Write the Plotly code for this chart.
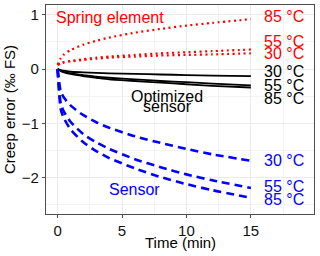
import plotly.graph_objects as go

# Time points (min)
time_min = [0, 0.25, 0.5, 1, 2, 3, 4, 6, 8, 10, 12, 15]

# Spring element (dotted red)
spring_30 = [0.08, 0.10, 0.12, 0.14, 0.17, 0.19, 0.21, 0.23, 0.25, 0.26, 0.27, 0.29]
spring_55 = [0.08, 0.11, 0.13, 0.15, 0.18, 0.21, 0.23, 0.26, 0.29, 0.31, 0.33, 0.36]
spring_85 = [0.08, 0.20, 0.27, 0.35, 0.45, 0.52, 0.58, 0.67, 0.74, 0.80, 0.85, 0.92]

# Optimized sensor (solid black)
opt_30 = [0, -0.02, -0.03, -0.05, -0.06, -0.07, -0.08, -0.09, -0.10, -0.11, -0.12, -0.13]
opt_55 = [0, -0.03, -0.05, -0.08, -0.11, -0.14, -0.16, -0.19, -0.22, -0.24, -0.27, -0.30]
opt_85 = [0, -0.04, -0.06, -0.09, -0.13, -0.16, -0.19, -0.22, -0.25, -0.28, -0.31, -0.34]

# Sensor (dashed blue)
sens_30 = [0, -0.42, -0.53, -0.67, -0.85, -0.98, -1.08, -1.24, -1.36, -1.47, -1.57, -1.69]
sens_55 = [0, -0.64, -0.79, -0.97, -1.20, -1.35, -1.47, -1.66, -1.81, -1.94, -2.05, -2.19]
sens_85 = [0, -0.75, -0.91, -1.11, -1.35, -1.51, -1.64, -1.83, -1.99, -2.12, -2.23, -2.37]

temp_labels = ["30 °C", "55 °C", "85 °C"]

RED = "#FF0000"
BLUE = "#0000FF"
BLACK = "#000000"
FONT = "Liberation Sans, Arial, sans-serif"

fig = go.Figure()

groups = [
    ([spring_30, spring_55, spring_85], RED, "2px,3.5px", 2.2),
    ([opt_30, opt_55, opt_85], BLACK, "solid", 1.8),
    ([sens_30, sens_55, sens_85], BLUE, "8px,5px", 2.6),
]
for series, color, dash, width in groups:
    for s in series:
        fig.add_trace(go.Scatter(
            x=time_min, y=s, mode="lines",
            line=dict(color=color, dash=dash, width=width, shape="spline", smoothing=0.6),
            hoverinfo="skip", showlegend=False,
        ))

# Temperature labels near line ends
label_y = {
    RED: [0.29, 0.50, 0.96],
    BLACK: [-0.05, -0.30, -0.54],
    BLUE: [-1.69, -2.16, -2.40],
}
annotations = []
for color, ys in label_y.items():
    for txt, yv in zip(temp_labels, ys):
        annotations.append(dict(
            x=15.9, y=yv, xref="x", yref="y", text=txt, showarrow=False,
            xanchor="left", yanchor="middle", font=dict(color=color, size=16, family=FONT),
        ))

annotations += [
    dict(x=4.05, y=0.95, xref="x", yref="y", text="Spring element", showarrow=False,
         xanchor="center", yanchor="middle", font=dict(color=RED, size=16, family=FONT)),
    dict(x=8.5, y=-0.50, xref="x", yref="y", text="Optimized", showarrow=False,
         xanchor="center", yanchor="middle", font=dict(color=BLACK, size=16, family=FONT)),
    dict(x=8.5, y=-0.69, xref="x", yref="y", text="sensor", showarrow=False,
         xanchor="center", yanchor="middle", font=dict(color=BLACK, size=16, family=FONT)),
    dict(x=6.0, y=-2.21, xref="x", yref="y", text="Sensor", showarrow=False,
         xanchor="center", yanchor="middle", font=dict(color=BLUE, size=16, family=FONT)),
    # x-axis title placed as annotation for exact position
    dict(x=0.5, y=-0.134, xref="paper", yref="paper", text="Time (min)", showarrow=False,
         xanchor="center", yanchor="middle", font=dict(color=BLACK, size=15, family=FONT)),
]

axis_common = dict(
    showgrid=True, gridcolor="#EBEBEB", gridwidth=1,
    showline=True, linecolor="#4D4D4D", linewidth=1.2, mirror=True,
    ticks="outside", ticklen=3, tickcolor="#4D4D4D", tickwidth=1,
    zeroline=False, automargin=False,
    tickfont=dict(size=15, color="#111111", family=FONT),
)

fig.update_layout(
    width=320, height=256,
    margin=dict(l=46, r=6, t=5, b=42),
    paper_bgcolor="white", plot_bgcolor="white",
    font=dict(family=FONT, size=15, color="#000000"),
    annotations=annotations,
    xaxis=dict(
        range=[-0.9, 19.9], tick0=0, dtick=5,
        minor=dict(dtick=2.5, showgrid=True, gridcolor="#F3F3F3", gridwidth=0.6),
        **axis_common,
    ),
    yaxis=dict(
        range=[-2.67, 1.18], tick0=0, dtick=1,
        minor=dict(dtick=0.5, showgrid=True, gridcolor="#F3F3F3", gridwidth=0.6),
        title=dict(text="Creep error (‰ FS)", font=dict(size=15, family=FONT), standoff=2),
        **axis_common,
    ),
    hovermode=False,
)

fig.write_html(
    "out.html",
    config={"displayModeBar": False},
    post_script="document.body.style.margin='0';document.body.style.padding='0';",
)
